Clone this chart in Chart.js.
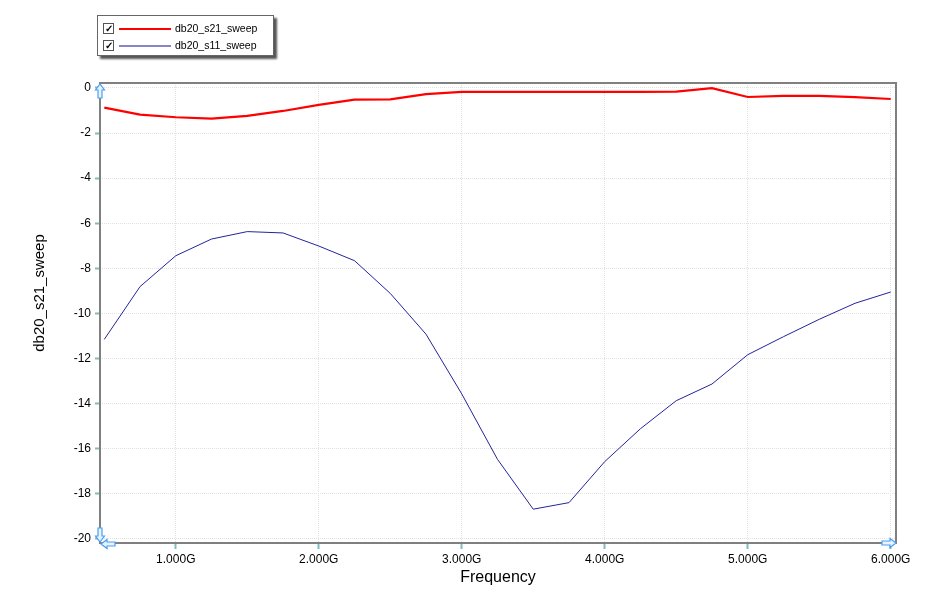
<!DOCTYPE html>
<html>
<head>
<meta charset="utf-8">
<script src="https://cdn.jsdelivr.net/npm/chart.js@4.4.1/dist/chart.umd.min.js"></script>
<style>
  html, body { margin: 0; padding: 0; background: #fff; }
  #wrap { position: relative; width: 944px; height: 607px; }
  #legend {
    position: absolute; left: 97px; top: 15px; width: 175px; height: 39px;
    border: 1px solid #666; background: #fff; box-shadow: 3px 3px 2px #555;
    font-family: 'Liberation Sans', Arial, sans-serif; font-size: 10.5px; color: #000;
  }
  .row { position: absolute; left: 5px; height: 12px; }
  .box {
    position: absolute; left: 0; top: 0; width: 9px; height: 9px;
    border: 1px solid #555; background: #fff; font-size: 10px; line-height: 9px;
    text-align: center; font-weight: bold;
  }
  .ln { position: absolute; left: 16px; width: 52px; }
  .txt { position: absolute; left: 72px; top: -1px; white-space: nowrap; }
</style>
</head>
<body>
<div id="wrap">
  <canvas id="chart" width="944" height="607"></canvas>
  <div id="legend">
    <div class="row" style="top:7px">
      <div class="box">&#10003;</div>
      <div class="ln" style="top:5px;height:2px;background:#ff0000"></div>
      <div class="txt">db20_s21_sweep</div>
    </div>
    <div class="row" style="top:24px">
      <div class="box">&#10003;</div>
      <div class="ln" style="top:5px;height:2px;background:#8585c8"></div>
      <div class="txt">db20_s11_sweep</div>
    </div>
  </div>
</div>
<script>
// frequency in GHz
const freqs = [0.5, 0.75, 1.0, 1.25, 1.5, 1.75, 2.0, 2.25, 2.5, 2.75, 3.0, 3.25,
               3.5, 3.75, 4.0, 4.25, 4.5, 4.75, 5.0, 5.25, 5.5, 5.75, 6.0];
const s21 = [-0.87, -1.18, -1.30, -1.36, -1.24, -1.02, -0.75, -0.52, -0.51, -0.27, -0.17, -0.17,
             -0.17, -0.17, -0.17, -0.17, -0.16, -0.01, -0.40, -0.35, -0.35, -0.41, -0.49];
const s11 = [-11.15, -8.81, -7.44, -6.70, -6.37, -6.43, -7.01, -7.66, -9.11, -10.92, -13.57, -16.47,
             -18.68, -18.39, -16.57, -15.11, -13.87, -13.13, -11.83, -11.03, -10.26, -9.55, -9.05];
const xTicks = [1, 2, 3, 4, 5, 6];
const yTicks = [-20, -18, -16, -14, -12, -10, -8, -6, -4, -2, 0];

const FONT = "'Liberation Sans', Arial, sans-serif";
const TEAL = '#7fbcbc';
const GRID = '#e2e2e2';

const toPoints = (ys) => freqs.map((f, i) => ({ x: f, y: ys[i] }));

// frame, axis titles and the little blue arrow markers at the corners
const framePlugin = {
  id: 'frame',
  afterDraw(chart) {
    const { ctx, chartArea: a } = chart;
    ctx.save();
    ctx.strokeStyle = '#808080';
    ctx.lineWidth = 2;
    ctx.strokeRect(a.left, a.top, a.right - a.left, a.bottom - a.top);

    ctx.fillStyle = '#000';
    ctx.font = '16px ' + FONT;
    ctx.textAlign = 'center';
    ctx.textBaseline = 'middle';
    ctx.fillText('Frequency', (a.left + a.right) / 2, 578);

    ctx.translate(40, 293);
    ctx.rotate(-Math.PI / 2);
    ctx.font = '15px ' + FONT;
    ctx.fillText('db20_s21_sweep', 0, 0);
    ctx.restore();

    const arrow = (x, y, ang) => {
      ctx.save();
      ctx.translate(x, y);
      ctx.rotate(ang);
      // points along +x, tip at origin
      ctx.beginPath();
      ctx.moveTo(0, 0);
      ctx.lineTo(-6, -4.5);
      ctx.lineTo(-6, -2);
      ctx.lineTo(-14, -2);
      ctx.lineTo(-14, 2);
      ctx.lineTo(-6, 2);
      ctx.lineTo(-6, 4.5);
      ctx.closePath();
      ctx.fillStyle = '#e8f3ff';
      ctx.fill();
      ctx.strokeStyle = '#4a9ff0';
      ctx.lineWidth = 1.2;
      ctx.stroke();
      ctx.restore();
    };
    arrow(a.left, a.top + 1, -Math.PI / 2);
    arrow(a.left, a.bottom - 1, Math.PI / 2);
    arrow(a.left + 1, a.bottom + 1, Math.PI);
    arrow(a.right, a.bottom, 0);
  }
};

new Chart(document.getElementById('chart'), {
  type: 'line',
  data: {
    datasets: [
      {
        label: 'db20_s21_sweep',
        data: toPoints(s21),
        borderColor: '#ff0000',
        borderWidth: 2.2,
        pointRadius: 0,
        tension: 0
      },
      {
        label: 'db20_s11_sweep',
        data: toPoints(s11),
        borderColor: '#23239a',
        borderWidth: 1,
        pointRadius: 0,
        tension: 0
      }
    ]
  },
  options: {
    responsive: false,
    animation: false,
    layout: { padding: { top: 83, right: 48, left: 0, bottom: 0 } },
    plugins: {
      legend: { display: false },
      tooltip: { enabled: false }
    },
    scales: {
      x: {
        type: 'linear',
        min: 0.47,
        max: 6.037,
        afterBuildTicks: (s) => { s.ticks = xTicks.map(v => ({ value: v })); },
        afterFit: (s) => { s.height = 64; },
        border: { display: false, dash: [1, 1] },
        grid: { color: GRID, lineWidth: 1, drawTicks: true, tickLength: 6, tickColor: TEAL, tickWidth: 2 },
        ticks: {
          color: '#000',
          font: { family: FONT, size: 12 },
          padding: 3,
          maxRotation: 0,
          callback: (v) => Number(v).toFixed(3) + 'G'
        }
      },
      y: {
        min: -20.18,
        max: 0.22,
        afterBuildTicks: (s) => { s.ticks = yTicks.map(v => ({ value: v })); },
        afterFit: (s) => { s.width = 100; },
        border: { display: false, dash: [1, 1] },
        grid: { color: GRID, lineWidth: 1, drawTicks: true, tickLength: 5, tickColor: TEAL, tickWidth: 2 },
        ticks: {
          color: '#000',
          font: { family: FONT, size: 12 },
          padding: 4,
          callback: (v) => String(v)
        }
      }
    }
  },
  plugins: [framePlugin]
});
</script>
</body>
</html>
